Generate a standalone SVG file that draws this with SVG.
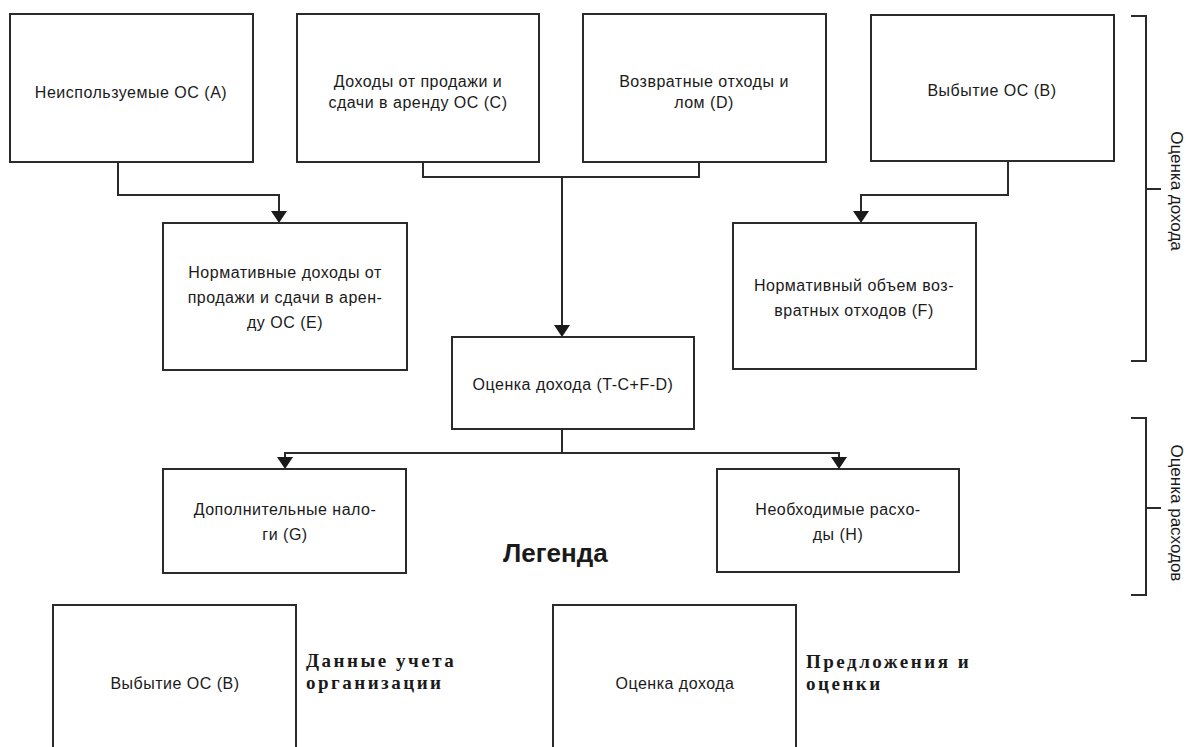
<svg xmlns="http://www.w3.org/2000/svg" width="1189" height="747" viewBox="0 0 1189 747">
  <style>
    .box { fill: #ffffff; stroke: #2b2b2b; stroke-width: 2; }
    .wire { fill: none; stroke: #2b2b2b; stroke-width: 2; }
    .lbl { font-family: "Liberation Sans", Arial, sans-serif; font-size: 16px; fill: #1a1a1a; text-anchor: middle; letter-spacing: 0.5px; }
    .side { font-family: "Liberation Sans", Arial, sans-serif; font-size: 17px; fill: #1a1a1a; text-anchor: middle; }
    .title { font-family: "Liberation Sans", Arial, sans-serif; font-size: 26px; font-weight: bold; fill: #1a1a1a; }
    .key { font-family: "Liberation Serif", "Times New Roman", serif; font-size: 19px; font-weight: bold; fill: #1a1a1a; letter-spacing: 2.5px; }
  </style>
  <defs>
    <!-- filled down-pointing arrowhead, tip at (0,0) -->
    <polygon id="tip" points="-8,-12 8,-12 0,0" fill="#1a1a1a"/>
  </defs>

  <rect width="1189" height="747" fill="#ffffff"/>

  <!-- connectors -->
  <g id="connectors">
    <path class="wire" d="M118,162 V195 H279 V214"/>
    <use href="#tip" x="279" y="223"/>
    <path class="wire" d="M423,162 V177 H699 V162"/>
    <path class="wire" d="M562,177 V328"/>
    <use href="#tip" x="562" y="337"/>
    <path class="wire" d="M1008,162 V195 H861 V214"/>
    <use href="#tip" x="861" y="223"/>
    <path class="wire" d="M562,429 V453"/>
    <path class="wire" d="M285,460 V453 H839 V460"/>
    <use href="#tip" x="285" y="469"/>
    <use href="#tip" x="839" y="469"/>
  </g>

  <!-- top row -->
  <g id="node-a">
    <rect class="box" x="10" y="14" width="243" height="148"/>
    <text class="lbl" x="131" y="98">Неиспользуемые ОС (А)</text>
  </g>
  <g id="node-c">
    <rect class="box" x="297" y="14" width="242" height="148"/>
    <text class="lbl" x="418" y="87">Доходы от продажи и</text>
    <text class="lbl" x="418" y="108">сдачи в аренду ОС (С)</text>
  </g>
  <g id="node-d">
    <rect class="box" x="583" y="14" width="243" height="148"/>
    <text class="lbl" x="704" y="87">Возвратные отходы и</text>
    <text class="lbl" x="704" y="108">лом (D)</text>
  </g>
  <g id="node-b">
    <rect class="box" x="871" y="15" width="243" height="146"/>
    <text class="lbl" x="992" y="96">Выбытие ОС (B)</text>
  </g>

  <!-- second row -->
  <g id="node-e">
    <rect class="box" x="163" y="223" width="244" height="147"/>
    <text class="lbl" x="285" y="278">Нормативные доходы от</text>
    <text class="lbl" x="285" y="303">продажи и сдачи в арен-</text>
    <text class="lbl" x="285" y="328">ду ОС (E)</text>
  </g>
  <g id="node-f">
    <rect class="box" x="733" y="223" width="243" height="146"/>
    <text class="lbl" x="854" y="291">Нормативный объем воз-</text>
    <text class="lbl" x="854" y="316">вратных отходов (F)</text>
  </g>

  <!-- estimate -->
  <g id="node-t">
    <rect class="box" x="452" y="337" width="242" height="92"/>
    <text class="lbl" x="573" y="390">Оценка дохода (T-C+F-D)</text>
  </g>

  <!-- costs -->
  <g id="node-g">
    <rect class="box" x="163" y="469" width="243" height="104"/>
    <text class="lbl" x="285" y="515">Дополнительные нало-</text>
    <text class="lbl" x="285" y="540">ги (G)</text>
  </g>
  <g id="node-h">
    <rect class="box" x="717" y="469" width="242" height="103"/>
    <text class="lbl" x="838" y="515">Необходимые расхо-</text>
    <text class="lbl" x="838" y="540">ды (H)</text>
  </g>

  <!-- side brackets -->
  <g id="bracket-income">
    <path class="wire" d="M1131,16 H1146 V361 H1131 M1146,189 H1161"/>
    <text class="side" transform="translate(1171,191) rotate(90)">Оценка дохода</text>
  </g>
  <g id="bracket-costs">
    <path class="wire" d="M1131,418 H1146 V595 H1131 M1146,508 H1161"/>
    <text class="side" transform="translate(1171,513) rotate(90)">Оценка расходов</text>
  </g>

  <!-- legend -->
  <g id="legend">
    <text class="title" x="503" y="562">Легенда</text>
    <g id="legend-records">
      <rect class="box" x="53" y="605" width="243" height="160"/>
      <text class="lbl" x="175" y="689">Выбытие ОС (B)</text>
      <text class="key" x="306" y="667">Данные учета</text>
      <text class="key" x="306" y="689">организации</text>
    </g>
    <g id="legend-proposals">
      <rect class="box" x="553" y="605" width="243" height="160"/>
      <text class="lbl" x="675" y="689">Оценка дохода</text>
      <text class="key" x="806" y="668">Предложения и</text>
      <text class="key" x="806" y="690">оценки</text>
    </g>
  </g>
</svg>
